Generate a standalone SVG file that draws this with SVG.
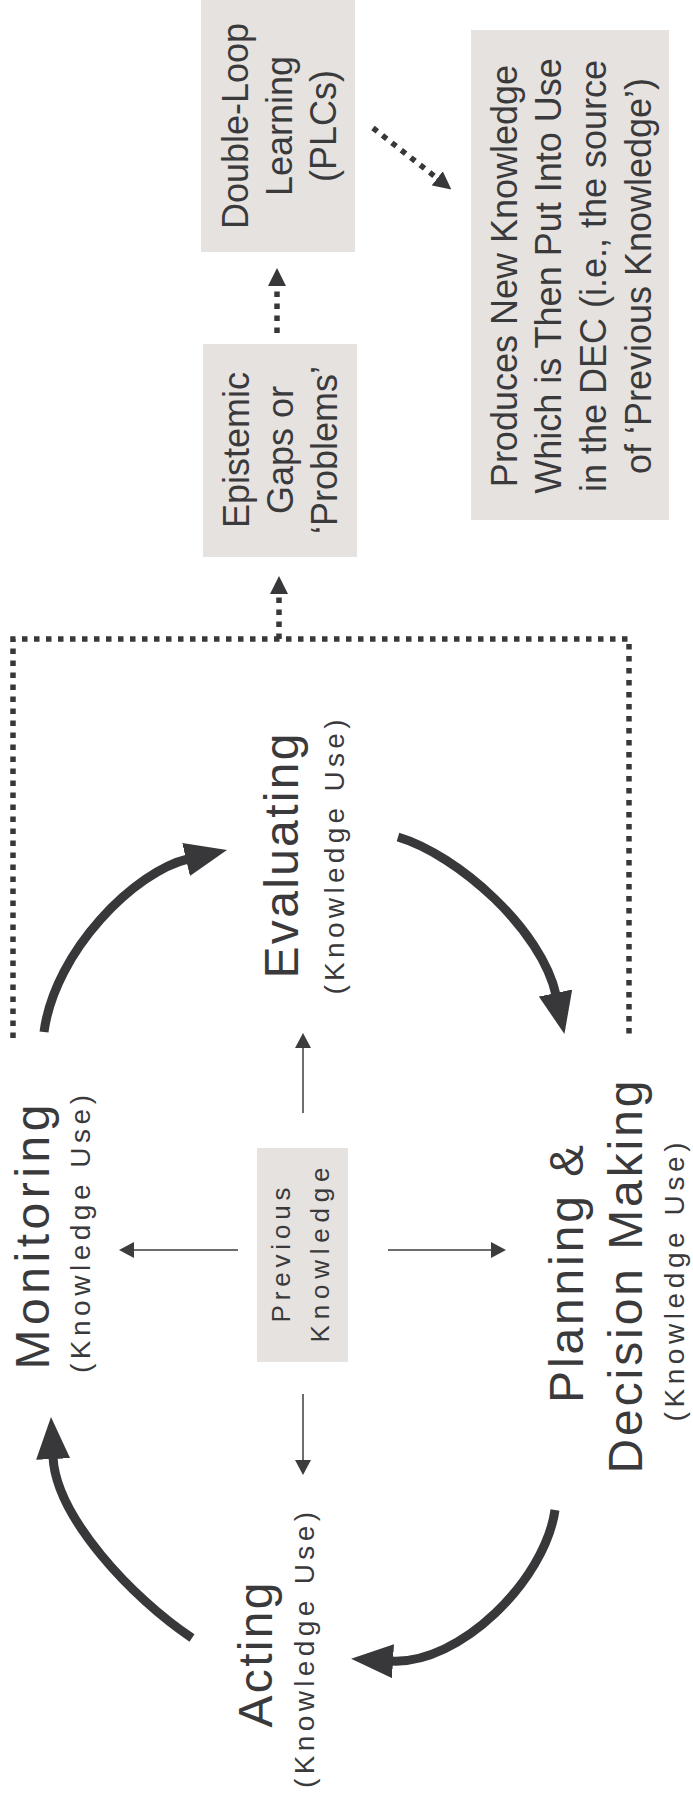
<svg xmlns="http://www.w3.org/2000/svg" width="693" height="1801" viewBox="0 0 693 1801">
<style>
text{font-family:"Liberation Sans",Arial,Helvetica,sans-serif;fill:#3a3a3c;text-anchor:middle}
.box{fill:#e6e2df}
.bt{font-size:36px}
.big{font-size:48px}
.ku{font-size:28px}
.pk{font-size:26px}
.arc{fill:none;stroke:#38383b;stroke-width:9;marker-end:url(#bigHead)}
.thin{fill:none;stroke:#3d3d3f;stroke-width:1.5;marker-end:url(#thinHead)}
.dot{fill:none;stroke:#38383b;stroke-width:5.5;stroke-dasharray:5.5 6.5}
.dota{marker-end:url(#dotHead)}
</style>
<defs>
<marker id="bigHead" markerUnits="userSpaceOnUse" viewBox="0 0 42 34" markerWidth="42" markerHeight="34" refX="2" refY="17" orient="auto"><path d="M0,0 L42,17 L0,34 z" fill="#38383b"/></marker>
<marker id="thinHead" markerUnits="userSpaceOnUse" viewBox="0 0 15 16" markerWidth="15" markerHeight="16" refX="1" refY="8" orient="auto"><path d="M0,0 L15,8 L0,16 z" fill="#3d3d3f"/></marker>
<marker id="dotHead" markerUnits="userSpaceOnUse" viewBox="0 0 18 18" markerWidth="18" markerHeight="18" refX="1" refY="9" orient="auto"><path d="M0,0 L18,9 L0,18 z" fill="#38383b"/></marker>
</defs>

<g id="double-loop">
<rect class="box" x="201" y="0" width="154" height="252"/>
<text class="bt" transform="translate(248,126) rotate(-90)">Double-Loop</text>
<text class="bt" transform="translate(292,126) rotate(-90)">Learning</text>
<text class="bt" transform="translate(336,126) rotate(-90)">(PLCs)</text>
</g>

<g id="epistemic">
<rect class="box" x="203" y="344" width="154" height="213"/>
<text class="bt" transform="translate(249,450) rotate(-90)">Epistemic</text>
<text class="bt" transform="translate(293,450) rotate(-90)">Gaps or</text>
<text class="bt" transform="translate(337,450) rotate(-90)">‘Problems’</text>
</g>

<g id="new-knowledge">
<rect class="box" x="471" y="30" width="198" height="490"/>
<text class="bt" transform="translate(517,276) rotate(-90)">Produces New Knowledge</text>
<text class="bt" transform="translate(561,276) rotate(-90)">Which is Then Put Into Use</text>
<text class="bt" transform="translate(606,276) rotate(-90)">in the DEC (i.e., the source</text>
<text class="bt" transform="translate(651,276) rotate(-90)">of ‘Previous Knowledge’)</text>
</g>

<g id="previous-knowledge">
<rect class="box" x="257" y="1148" width="91" height="214"/>
<text class="pk" transform="translate(290,1255) rotate(-90)" textLength="135" lengthAdjust="spacing">Previous</text>
<text class="pk" transform="translate(329,1255) rotate(-90)" textLength="175" lengthAdjust="spacing">Knowledge</text>
</g>

<g id="monitoring">
<text class="big" transform="translate(49,1237) rotate(-90)" textLength="265" lengthAdjust="spacing">Monitoring</text>
<text class="ku" transform="translate(90,1234) rotate(-90)" textLength="278" lengthAdjust="spacing">(Knowledge Use)</text>
</g>

<g id="evaluating">
<text class="big" transform="translate(298,856) rotate(-90)" textLength="245" lengthAdjust="spacing">Evaluating</text>
<text class="ku" transform="translate(344,857) rotate(-90)" textLength="275" lengthAdjust="spacing">(Knowledge Use)</text>
</g>

<g id="planning">
<text class="big" transform="translate(583,1274) rotate(-90)" textLength="258" lengthAdjust="spacing">Planning &amp;</text>
<text class="big" transform="translate(642,1277) rotate(-90)" textLength="393" lengthAdjust="spacing">Decision Making</text>
<text class="ku" transform="translate(684,1282) rotate(-90)" textLength="279" lengthAdjust="spacing">(Knowledge Use)</text>
</g>

<g id="acting">
<text class="big" transform="translate(272,1655) rotate(-90)" textLength="145" lengthAdjust="spacing">Acting</text>
<text class="ku" transform="translate(314,1650) rotate(-90)" textLength="276" lengthAdjust="spacing">(Knowledge Use)</text>
</g>

<g id="connectors">
<path class="arc" d="M44,1032 C55,950 136,871 188,859"/>
<path class="arc" d="M398,837 C458,855 542,930 556,995"/>
<path class="arc" d="M555,1510 C545,1580 460,1665 391,1661"/>
<path class="arc" d="M192,1638 C132,1598 56,1517 53,1457"/>
<path class="thin" d="M303,1113 V1047"/>
<path class="thin" d="M238,1250 H133"/>
<path class="thin" d="M388,1250 H492"/>
<path class="thin" d="M303,1394 V1461"/>
<path class="dot" d="M13,1038 V639 H629 V1038"/>
<path class="dot dota" d="M279,639 V593"/>
<path class="dot dota" d="M277,333 V285"/>
<path class="dot dota" d="M373,128 L438,179"/>
</g>
</svg>
